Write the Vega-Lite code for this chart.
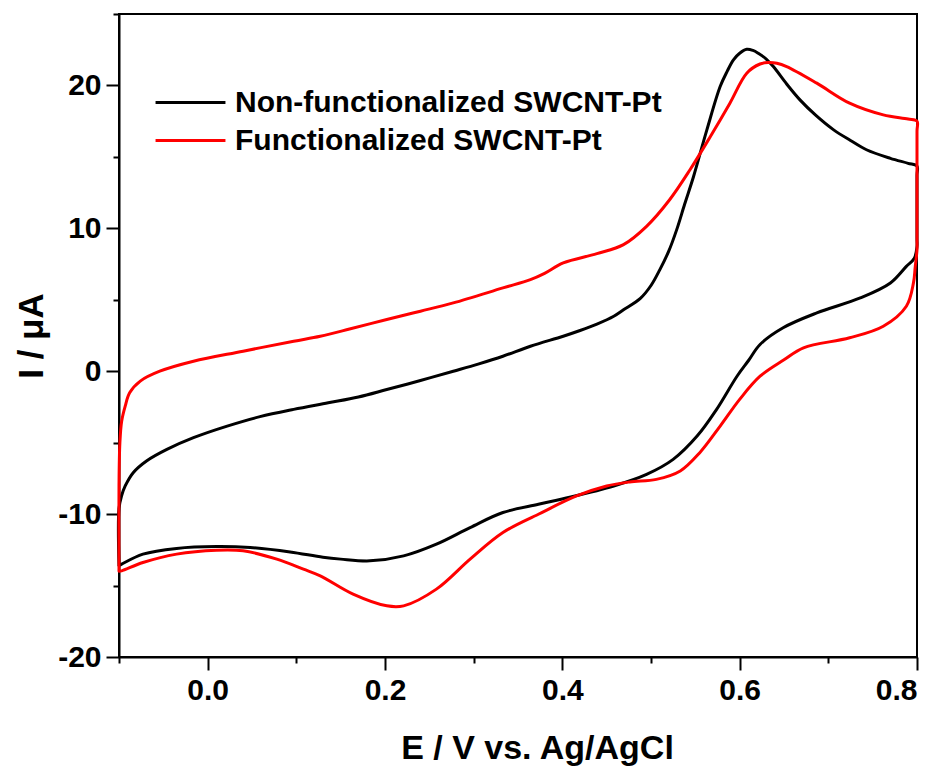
{
  "$schema": "https://vega.github.io/schema/vega-lite/v6.json",
  "width": 798,
  "height": 643,
  "autosize": "none",
  "padding": {"left": 119, "top": 14, "right": 26, "bottom": 121},
  "background": "white",
  "config": {
    "font": "Liberation Sans",
    "view": {"stroke": "black", "strokeWidth": 2}
  },
  "data": {
    "values": [
      {"s": "Non-functionalized SWCNT-Pt", "k": 1, "E": -0.1, "I": -13.6},
      {"s": "Non-functionalized SWCNT-Pt", "k": 2, "E": -0.1, "I": -9.6},
      {"s": "Non-functionalized SWCNT-Pt", "k": 3, "E": -0.097, "I": -8.7},
      {"s": "Non-functionalized SWCNT-Pt", "k": 4, "E": -0.093, "I": -8.03},
      {"s": "Non-functionalized SWCNT-Pt", "k": 5, "E": -0.084, "I": -7.1},
      {"s": "Non-functionalized SWCNT-Pt", "k": 6, "E": -0.069, "I": -6.28},
      {"s": "Non-functionalized SWCNT-Pt", "k": 7, "E": -0.046, "I": -5.47},
      {"s": "Non-functionalized SWCNT-Pt", "k": 8, "E": -0.016, "I": -4.65},
      {"s": "Non-functionalized SWCNT-Pt", "k": 9, "E": 0.022, "I": -3.84},
      {"s": "Non-functionalized SWCNT-Pt", "k": 10, "E": 0.059, "I": -3.18},
      {"s": "Non-functionalized SWCNT-Pt", "k": 11, "E": 0.097, "I": -2.67},
      {"s": "Non-functionalized SWCNT-Pt", "k": 12, "E": 0.136, "I": -2.21},
      {"s": "Non-functionalized SWCNT-Pt", "k": 13, "E": 0.17, "I": -1.8},
      {"s": "Non-functionalized SWCNT-Pt", "k": 14, "E": 0.202, "I": -1.28},
      {"s": "Non-functionalized SWCNT-Pt", "k": 15, "E": 0.24, "I": -0.65},
      {"s": "Non-functionalized SWCNT-Pt", "k": 16, "E": 0.277, "I": 0.0},
      {"s": "Non-functionalized SWCNT-Pt", "k": 17, "E": 0.305, "I": 0.5},
      {"s": "Non-functionalized SWCNT-Pt", "k": 18, "E": 0.333, "I": 1.05},
      {"s": "Non-functionalized SWCNT-Pt", "k": 19, "E": 0.364, "I": 1.75},
      {"s": "Non-functionalized SWCNT-Pt", "k": 20, "E": 0.401, "I": 2.45},
      {"s": "Non-functionalized SWCNT-Pt", "k": 21, "E": 0.42, "I": 2.85},
      {"s": "Non-functionalized SWCNT-Pt", "k": 22, "E": 0.439, "I": 3.3},
      {"s": "Non-functionalized SWCNT-Pt", "k": 23, "E": 0.458, "I": 3.85},
      {"s": "Non-functionalized SWCNT-Pt", "k": 24, "E": 0.469, "I": 4.3},
      {"s": "Non-functionalized SWCNT-Pt", "k": 25, "E": 0.488, "I": 5.1},
      {"s": "Non-functionalized SWCNT-Pt", "k": 26, "E": 0.5, "I": 6.0},
      {"s": "Non-functionalized SWCNT-Pt", "k": 27, "E": 0.51, "I": 7.11},
      {"s": "Non-functionalized SWCNT-Pt", "k": 28, "E": 0.52, "I": 8.4},
      {"s": "Non-functionalized SWCNT-Pt", "k": 29, "E": 0.529, "I": 9.91},
      {"s": "Non-functionalized SWCNT-Pt", "k": 30, "E": 0.538, "I": 11.7},
      {"s": "Non-functionalized SWCNT-Pt", "k": 31, "E": 0.548, "I": 13.63},
      {"s": "Non-functionalized SWCNT-Pt", "k": 32, "E": 0.563, "I": 16.89},
      {"s": "Non-functionalized SWCNT-Pt", "k": 33, "E": 0.578, "I": 19.92},
      {"s": "Non-functionalized SWCNT-Pt", "k": 34, "E": 0.586, "I": 21.0},
      {"s": "Non-functionalized SWCNT-Pt", "k": 35, "E": 0.593, "I": 21.79},
      {"s": "Non-functionalized SWCNT-Pt", "k": 36, "E": 0.6, "I": 22.25},
      {"s": "Non-functionalized SWCNT-Pt", "k": 37, "E": 0.608, "I": 22.53},
      {"s": "Non-functionalized SWCNT-Pt", "k": 38, "E": 0.615, "I": 22.45},
      {"s": "Non-functionalized SWCNT-Pt", "k": 39, "E": 0.621, "I": 22.25},
      {"s": "Non-functionalized SWCNT-Pt", "k": 40, "E": 0.63, "I": 21.85},
      {"s": "Non-functionalized SWCNT-Pt", "k": 41, "E": 0.638, "I": 21.32},
      {"s": "Non-functionalized SWCNT-Pt", "k": 42, "E": 0.653, "I": 20.1},
      {"s": "Non-functionalized SWCNT-Pt", "k": 43, "E": 0.668, "I": 18.99},
      {"s": "Non-functionalized SWCNT-Pt", "k": 44, "E": 0.686, "I": 17.9},
      {"s": "Non-functionalized SWCNT-Pt", "k": 45, "E": 0.706, "I": 16.89},
      {"s": "Non-functionalized SWCNT-Pt", "k": 46, "E": 0.725, "I": 16.15},
      {"s": "Non-functionalized SWCNT-Pt", "k": 47, "E": 0.743, "I": 15.5},
      {"s": "Non-functionalized SWCNT-Pt", "k": 48, "E": 0.77, "I": 14.9},
      {"s": "Non-functionalized SWCNT-Pt", "k": 49, "E": 0.79, "I": 14.55},
      {"s": "Non-functionalized SWCNT-Pt", "k": 50, "E": 0.8, "I": 14.35},
      {"s": "Non-functionalized SWCNT-Pt", "k": 51, "E": 0.8, "I": 13.7},
      {"s": "Non-functionalized SWCNT-Pt", "k": 52, "E": 0.8, "I": 9.3},
      {"s": "Non-functionalized SWCNT-Pt", "k": 53, "E": 0.8, "I": 8.74},
      {"s": "Non-functionalized SWCNT-Pt", "k": 54, "E": 0.797, "I": 7.9},
      {"s": "Non-functionalized SWCNT-Pt", "k": 55, "E": 0.788, "I": 7.34},
      {"s": "Non-functionalized SWCNT-Pt", "k": 56, "E": 0.77, "I": 6.18},
      {"s": "Non-functionalized SWCNT-Pt", "k": 57, "E": 0.736, "I": 5.13},
      {"s": "Non-functionalized SWCNT-Pt", "k": 58, "E": 0.687, "I": 4.08},
      {"s": "Non-functionalized SWCNT-Pt", "k": 59, "E": 0.649, "I": 3.04},
      {"s": "Non-functionalized SWCNT-Pt", "k": 60, "E": 0.623, "I": 1.87},
      {"s": "Non-functionalized SWCNT-Pt", "k": 61, "E": 0.61, "I": 0.75},
      {"s": "Non-functionalized SWCNT-Pt", "k": 62, "E": 0.597, "I": -0.35},
      {"s": "Non-functionalized SWCNT-Pt", "k": 63, "E": 0.574, "I": -2.67},
      {"s": "Non-functionalized SWCNT-Pt", "k": 64, "E": 0.552, "I": -4.54},
      {"s": "Non-functionalized SWCNT-Pt", "k": 65, "E": 0.525, "I": -6.17},
      {"s": "Non-functionalized SWCNT-Pt", "k": 66, "E": 0.495, "I": -7.22},
      {"s": "Non-functionalized SWCNT-Pt", "k": 67, "E": 0.458, "I": -8.03},
      {"s": "Non-functionalized SWCNT-Pt", "k": 68, "E": 0.401, "I": -8.92},
      {"s": "Non-functionalized SWCNT-Pt", "k": 69, "E": 0.373, "I": -9.31},
      {"s": "Non-functionalized SWCNT-Pt", "k": 70, "E": 0.333, "I": -9.89},
      {"s": "Non-functionalized SWCNT-Pt", "k": 71, "E": 0.296, "I": -10.94},
      {"s": "Non-functionalized SWCNT-Pt", "k": 72, "E": 0.258, "I": -12.1},
      {"s": "Non-functionalized SWCNT-Pt", "k": 73, "E": 0.221, "I": -12.92},
      {"s": "Non-functionalized SWCNT-Pt", "k": 74, "E": 0.183, "I": -13.27},
      {"s": "Non-functionalized SWCNT-Pt", "k": 75, "E": 0.15, "I": -13.15},
      {"s": "Non-functionalized SWCNT-Pt", "k": 76, "E": 0.13, "I": -13.02},
      {"s": "Non-functionalized SWCNT-Pt", "k": 77, "E": 0.093, "I": -12.65},
      {"s": "Non-functionalized SWCNT-Pt", "k": 78, "E": 0.048, "I": -12.34},
      {"s": "Non-functionalized SWCNT-Pt", "k": 79, "E": 0.01, "I": -12.27},
      {"s": "Non-functionalized SWCNT-Pt", "k": 80, "E": -0.035, "I": -12.4},
      {"s": "Non-functionalized SWCNT-Pt", "k": 81, "E": -0.073, "I": -12.8},
      {"s": "Non-functionalized SWCNT-Pt", "k": 82, "E": -0.097, "I": -13.5},
      {"s": "Non-functionalized SWCNT-Pt", "k": 83, "E": -0.1, "I": -13.6},

      {"s": "Functionalized SWCNT-Pt", "k": 1, "E": -0.1, "I": -14.0},
      {"s": "Functionalized SWCNT-Pt", "k": 2, "E": -0.1, "I": -8.0},
      {"s": "Functionalized SWCNT-Pt", "k": 3, "E": -0.099, "I": -5.0},
      {"s": "Functionalized SWCNT-Pt", "k": 4, "E": -0.097, "I": -3.5},
      {"s": "Functionalized SWCNT-Pt", "k": 5, "E": -0.093, "I": -2.44},
      {"s": "Functionalized SWCNT-Pt", "k": 6, "E": -0.088, "I": -1.51},
      {"s": "Functionalized SWCNT-Pt", "k": 7, "E": -0.076, "I": -0.69},
      {"s": "Functionalized SWCNT-Pt", "k": 8, "E": -0.054, "I": 0.0},
      {"s": "Functionalized SWCNT-Pt", "k": 9, "E": -0.016, "I": 0.7},
      {"s": "Functionalized SWCNT-Pt", "k": 10, "E": 0.04, "I": 1.4},
      {"s": "Functionalized SWCNT-Pt", "k": 11, "E": 0.097, "I": 2.1},
      {"s": "Functionalized SWCNT-Pt", "k": 12, "E": 0.127, "I": 2.45},
      {"s": "Functionalized SWCNT-Pt", "k": 13, "E": 0.16, "I": 2.95},
      {"s": "Functionalized SWCNT-Pt", "k": 14, "E": 0.202, "I": 3.62},
      {"s": "Functionalized SWCNT-Pt", "k": 15, "E": 0.24, "I": 4.2},
      {"s": "Functionalized SWCNT-Pt", "k": 16, "E": 0.277, "I": 4.78},
      {"s": "Functionalized SWCNT-Pt", "k": 17, "E": 0.333, "I": 5.83},
      {"s": "Functionalized SWCNT-Pt", "k": 18, "E": 0.364, "I": 6.41},
      {"s": "Functionalized SWCNT-Pt", "k": 19, "E": 0.38, "I": 6.85},
      {"s": "Functionalized SWCNT-Pt", "k": 20, "E": 0.401, "I": 7.58},
      {"s": "Functionalized SWCNT-Pt", "k": 21, "E": 0.439, "I": 8.23},
      {"s": "Functionalized SWCNT-Pt", "k": 22, "E": 0.469, "I": 8.86},
      {"s": "Functionalized SWCNT-Pt", "k": 23, "E": 0.495, "I": 10.14},
      {"s": "Functionalized SWCNT-Pt", "k": 24, "E": 0.521, "I": 12.0},
      {"s": "Functionalized SWCNT-Pt", "k": 25, "E": 0.544, "I": 14.1},
      {"s": "Functionalized SWCNT-Pt", "k": 26, "E": 0.567, "I": 16.43},
      {"s": "Functionalized SWCNT-Pt", "k": 27, "E": 0.589, "I": 18.76},
      {"s": "Functionalized SWCNT-Pt", "k": 28, "E": 0.608, "I": 20.86},
      {"s": "Functionalized SWCNT-Pt", "k": 29, "E": 0.623, "I": 21.5},
      {"s": "Functionalized SWCNT-Pt", "k": 30, "E": 0.632, "I": 21.6},
      {"s": "Functionalized SWCNT-Pt", "k": 31, "E": 0.642, "I": 21.55},
      {"s": "Functionalized SWCNT-Pt", "k": 32, "E": 0.653, "I": 21.32},
      {"s": "Functionalized SWCNT-Pt", "k": 33, "E": 0.687, "I": 20.16},
      {"s": "Functionalized SWCNT-Pt", "k": 34, "E": 0.724, "I": 18.76},
      {"s": "Functionalized SWCNT-Pt", "k": 35, "E": 0.762, "I": 17.94},
      {"s": "Functionalized SWCNT-Pt", "k": 36, "E": 0.79, "I": 17.65},
      {"s": "Functionalized SWCNT-Pt", "k": 37, "E": 0.8, "I": 17.5},
      {"s": "Functionalized SWCNT-Pt", "k": 38, "E": 0.8, "I": 16.8},
      {"s": "Functionalized SWCNT-Pt", "k": 39, "E": 0.8, "I": 9.2},
      {"s": "Functionalized SWCNT-Pt", "k": 40, "E": 0.8, "I": 8.5},
      {"s": "Functionalized SWCNT-Pt", "k": 41, "E": 0.798, "I": 7.3},
      {"s": "Functionalized SWCNT-Pt", "k": 42, "E": 0.796, "I": 6.18},
      {"s": "Functionalized SWCNT-Pt", "k": 43, "E": 0.788, "I": 4.55},
      {"s": "Functionalized SWCNT-Pt", "k": 44, "E": 0.762, "I": 3.15},
      {"s": "Functionalized SWCNT-Pt", "k": 45, "E": 0.724, "I": 2.34},
      {"s": "Functionalized SWCNT-Pt", "k": 46, "E": 0.672, "I": 1.64},
      {"s": "Functionalized SWCNT-Pt", "k": 47, "E": 0.65, "I": 0.8},
      {"s": "Functionalized SWCNT-Pt", "k": 48, "E": 0.623, "I": -0.35},
      {"s": "Functionalized SWCNT-Pt", "k": 49, "E": 0.6, "I": -1.97},
      {"s": "Functionalized SWCNT-Pt", "k": 50, "E": 0.578, "I": -3.84},
      {"s": "Functionalized SWCNT-Pt", "k": 51, "E": 0.555, "I": -5.7},
      {"s": "Functionalized SWCNT-Pt", "k": 52, "E": 0.533, "I": -6.98},
      {"s": "Functionalized SWCNT-Pt", "k": 53, "E": 0.506, "I": -7.57},
      {"s": "Functionalized SWCNT-Pt", "k": 54, "E": 0.476, "I": -7.75},
      {"s": "Functionalized SWCNT-Pt", "k": 55, "E": 0.45, "I": -8.03},
      {"s": "Functionalized SWCNT-Pt", "k": 56, "E": 0.416, "I": -8.73},
      {"s": "Functionalized SWCNT-Pt", "k": 57, "E": 0.373, "I": -10.01},
      {"s": "Functionalized SWCNT-Pt", "k": 58, "E": 0.333, "I": -11.29},
      {"s": "Functionalized SWCNT-Pt", "k": 59, "E": 0.296, "I": -13.15},
      {"s": "Functionalized SWCNT-Pt", "k": 60, "E": 0.258, "I": -15.25},
      {"s": "Functionalized SWCNT-Pt", "k": 61, "E": 0.221, "I": -16.42},
      {"s": "Functionalized SWCNT-Pt", "k": 62, "E": 0.202, "I": -16.42},
      {"s": "Functionalized SWCNT-Pt", "k": 63, "E": 0.164, "I": -15.6},
      {"s": "Functionalized SWCNT-Pt", "k": 64, "E": 0.127, "I": -14.32},
      {"s": "Functionalized SWCNT-Pt", "k": 65, "E": 0.108, "I": -13.85},
      {"s": "Functionalized SWCNT-Pt", "k": 66, "E": 0.078, "I": -13.15},
      {"s": "Functionalized SWCNT-Pt", "k": 67, "E": 0.04, "I": -12.57},
      {"s": "Functionalized SWCNT-Pt", "k": 68, "E": 0.01, "I": -12.53},
      {"s": "Functionalized SWCNT-Pt", "k": 69, "E": -0.035, "I": -12.8},
      {"s": "Functionalized SWCNT-Pt", "k": 70, "E": -0.073, "I": -13.39},
      {"s": "Functionalized SWCNT-Pt", "k": 71, "E": -0.097, "I": -13.97},
      {"s": "Functionalized SWCNT-Pt", "k": 72, "E": -0.1, "I": -14.0}
    ]
  },
  "mark": {"type": "line", "strokeWidth": 3, "strokeJoin": "round", "strokeCap": "round", "interpolate": "catmull-rom"},
  "encoding": {
    "x": {
      "field": "E",
      "type": "quantitative",
      "scale": {"domain": [-0.1, 0.8], "nice": false, "zero": false},
      "axis": {
        "title": "E / V vs. Ag/AgCl",
        "titleX": 418,
        "values": [-0.1, 0, 0.1, 0.2, 0.3, 0.4, 0.5, 0.6, 0.7, 0.8],
        "labelExpr": "round(datum.value * 10) % 2 == 0 ? format(datum.value, '.1f') : ''",
        "tickSize": {"condition": {"test": "round(datum.value * 10) % 2 == 0", "value": 13}, "value": 6},
        "grid": false,
        "domainColor": "black",
        "domainWidth": 2,
        "tickColor": "black",
        "tickWidth": 2,
        "labelFont": "Liberation Sans",
        "labelFontSize": 30,
        "labelFontWeight": "bold",
        "labelColor": "black",
        "labelPadding": 5,
        "labelOverlap": false,
        "titleFont": "Liberation Sans",
        "titleFontSize": 34,
        "titleFontWeight": "bold",
        "titleColor": "black",
        "titlePadding": 26
      }
    },
    "y": {
      "field": "I",
      "type": "quantitative",
      "scale": {"domain": [-20, 25], "nice": false, "zero": false},
      "axis": {
        "title": "I / μA",
        "values": [-20, -15, -10, -5, 0, 5, 10, 15, 20, 25],
        "labelExpr": "datum.value % 10 == 0 ? '' + datum.value : ''",
        "tickSize": {"condition": {"test": "datum.value % 10 == 0", "value": 13}, "value": 6},
        "grid": false,
        "domainColor": "black",
        "domainWidth": 2,
        "tickColor": "black",
        "tickWidth": 2,
        "labelFont": "Liberation Sans",
        "labelFontSize": 30,
        "labelFontWeight": "bold",
        "labelColor": "black",
        "labelPadding": 5,
        "labelOverlap": false,
        "titleFont": "Liberation Sans",
        "titleFontSize": 35,
        "titleFontWeight": "bold",
        "titleColor": "black",
        "titlePadding": 8
      }
    },
    "color": {
      "field": "s",
      "type": "nominal",
      "scale": {
        "domain": ["Non-functionalized SWCNT-Pt", "Functionalized SWCNT-Pt"],
        "range": ["#000000", "#ff0000"]
      },
      "legend": {
        "orient": "none",
        "legendX": 55,
        "legendY": 72,
        "title": null,
        "padding": 0,
        "symbolType": "M-2.33,0H2.33",
        "symbolSize": 900,
        "symbolStrokeWidth": 3,
        "symbolFillColor": "transparent",
        "labelFont": "Liberation Sans",
        "labelFontSize": 30,
        "labelFontWeight": "bold",
        "labelColor": "black",
        "labelOffset": 28,
        "labelLimit": 700,
        "rowPadding": 6
      }
    },
    "order": {"field": "k", "type": "quantitative"}
  }
}
